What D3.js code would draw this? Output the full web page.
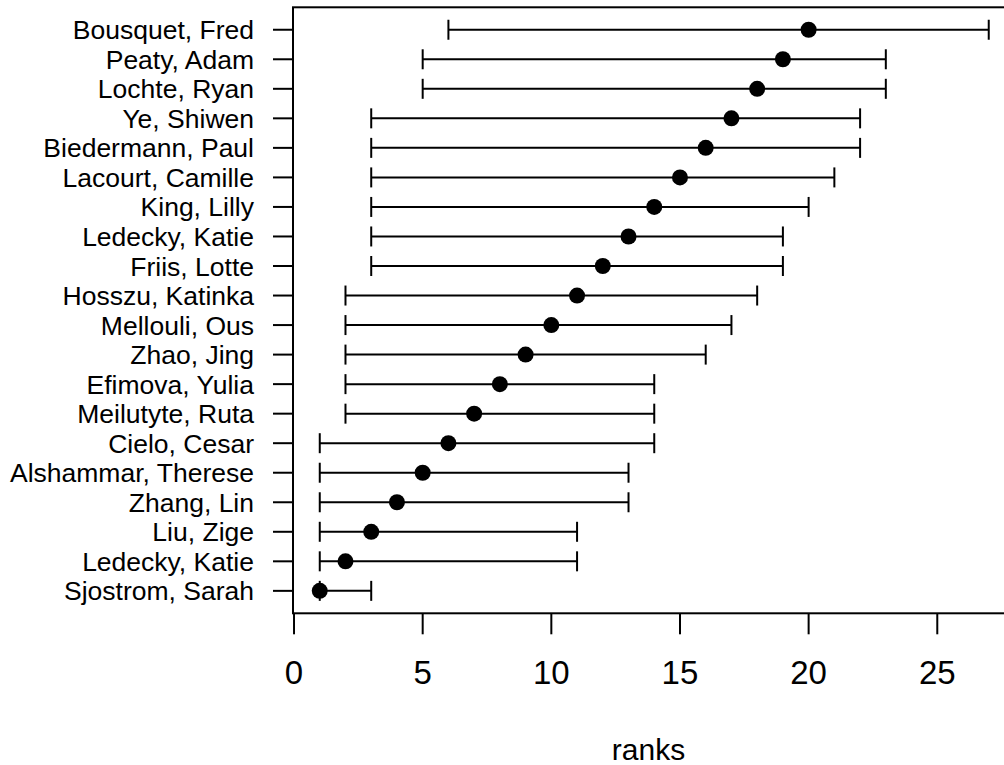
<!DOCTYPE html>
<html>
<head>
<meta charset="utf-8">
<script src="https://cdn.jsdelivr.net/npm/d3@7"></script>
<style>
  body { margin: 0; background: #fff; }
  text { font-family: "Liberation Sans", Arial, sans-serif; fill: #000; }
</style>
</head>
<body>
<div id="chart"></div>
<script>
// swimmers, top row first
const names = [
  "Bousquet, Fred", "Peaty, Adam", "Lochte, Ryan", "Ye, Shiwen", "Biedermann, Paul",
  "Lacourt, Camille", "King, Lilly", "Ledecky, Katie", "Friis, Lotte", "Hosszu, Katinka",
  "Mellouli, Ous", "Zhao, Jing", "Efimova, Yulia", "Meilutyte, Ruta", "Cielo, Cesar",
  "Alshammar, Therese", "Zhang, Lin", "Liu, Zige", "Ledecky, Katie", "Sjostrom, Sarah"
];
const ranks = [20, 19, 18, 17, 16, 15, 14, 13, 12, 11, 10, 9, 8, 7, 6, 5, 4, 3, 2, 1];
const lower = [6, 5, 5, 3, 3, 3, 3, 3, 3, 2, 2, 2, 2, 2, 1, 1, 1, 1, 1, 1];
const upper = [27, 23, 23, 22, 22, 21, 20, 19, 19, 18, 17, 16, 14, 14, 14, 13, 13, 11, 11, 3];
const xTicks = [0, 5, 10, 15, 20, 25];

const W = 1004, H = 765;
const plot = { left: 293, right: 1015.5, top: 7.3, bottom: 613.3 };

const rows = names.map((n, i) => ({ name: n, pos: names.length - i, rank: ranks[i], lo: lower[i], hi: upper[i] }));

const svg = d3.select("#chart").append("svg")
    .attr("width", W)
    .attr("height", H);

// R style 4% padding around the data range
const x = d3.scaleLinear()
    .domain([-0.04, 28.04])
    .range([plot.left, plot.right]);

const y = d3.scaleLinear()
    .domain([0.24, 20.76])
    .range([plot.bottom, plot.top]);

// box (right side runs past the window edge)
svg.append("rect")
    .attr("x", plot.left)
    .attr("y", plot.top)
    .attr("width", plot.right - plot.left)
    .attr("height", plot.bottom - plot.top)
    .attr("fill", "none")
    .attr("stroke", "#000")
    .attr("stroke-width", 2);

// y axis: names
const yAxis = svg.append("g");
yAxis.selectAll("line")
    .data(rows)
  .enter().append("line")
    .attr("x1", plot.left - 20)
    .attr("x2", plot.left)
    .attr("y1", d => y(d.pos))
    .attr("y2", d => y(d.pos))
    .attr("stroke", "#000")
    .attr("stroke-width", 2);
yAxis.selectAll("text")
    .data(rows)
  .enter().append("text")
    .attr("x", 254)
    .attr("y", d => y(d.pos) + 9.5)
    .attr("text-anchor", "end")
    .style("font-size", "26.5px")
    .text(d => d.name);

// x axis
const xAxis = svg.append("g");
xAxis.selectAll("line")
    .data(xTicks)
  .enter().append("line")
    .attr("x1", d => x(d))
    .attr("x2", d => x(d))
    .attr("y1", plot.bottom)
    .attr("y2", plot.bottom + 21)
    .attr("stroke", "#000")
    .attr("stroke-width", 2);
xAxis.selectAll("text")
    .data(xTicks)
  .enter().append("text")
    .attr("x", d => x(d))
    .attr("y", 684)
    .attr("text-anchor", "middle")
    .style("font-size", "33px")
    .text(d => d);

svg.append("text")
    .attr("x", (plot.left + W) / 2)
    .attr("y", 760)
    .attr("text-anchor", "middle")
    .style("font-size", "30px")
    .text("ranks");

// interval bars with end caps
const bars = svg.append("g");
bars.selectAll(".bar")
    .data(rows)
  .enter().append("line")
    .attr("class", "bar")
    .attr("x1", d => x(d.lo))
    .attr("x2", d => x(d.hi))
    .attr("y1", d => y(d.pos))
    .attr("y2", d => y(d.pos))
    .attr("stroke", "#000")
    .attr("stroke-width", 2);

["lo", "hi"].forEach(k => {
    bars.selectAll(".cap-" + k)
        .data(rows)
      .enter().append("line")
        .attr("class", "cap-" + k)
        .attr("x1", d => x(d[k]))
        .attr("x2", d => x(d[k]))
        .attr("y1", d => y(d.pos) - 10)
        .attr("y2", d => y(d.pos) + 10)
        .attr("stroke", "#000")
        .attr("stroke-width", 2);
});

// points
svg.selectAll(".pt")
    .data(rows)
  .enter().append("circle")
    .attr("class", "pt")
    .attr("cx", d => x(d.rank))
    .attr("cy", d => y(d.pos))
    .attr("r", 8)
    .attr("fill", "#000");
</script>
</body>
</html>
